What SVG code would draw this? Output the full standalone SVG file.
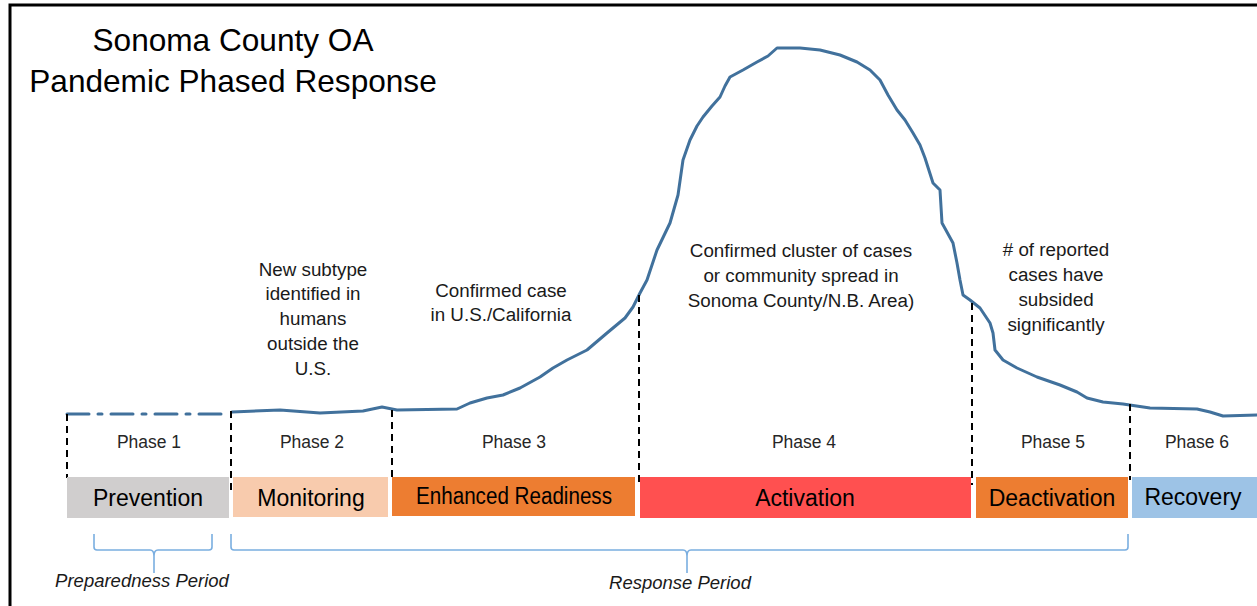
<svg xmlns="http://www.w3.org/2000/svg" width="1257" height="606" viewBox="0 0 1257 606">
  <style>
    .title { font-family: "Liberation Sans", Arial, sans-serif; font-size: 31.6px; fill: #000; text-anchor: middle; }
    .note { font-family: "Liberation Sans", Arial, sans-serif; font-size: 18.8px; fill: #1a1a1a; text-anchor: middle; }
    .phase { font-family: "Liberation Sans", Arial, sans-serif; font-size: 17.5px; fill: #262626; text-anchor: middle; }
    .bar { font-family: "Liberation Sans", Arial, sans-serif; font-size: 23px; fill: #000; text-anchor: middle; }
    .period { font-family: "Liberation Sans", Arial, sans-serif; font-size: 18.5px; font-style: italic; fill: #1a1a1a; text-anchor: middle; }
    .div { stroke: #000; stroke-width: 2; stroke-dasharray: 7 5; fill: none; }
    .brace { stroke: #7aaee0; stroke-width: 1.6; fill: none; }
    .curve { stroke: #41719c; stroke-width: 3; fill: none; stroke-linejoin: round; stroke-linecap: round; }
  </style>
  <rect x="0" y="0" width="1257" height="606" fill="#fff"/>
  <path d="M10,606 V5 H1257" stroke="#000" stroke-width="3" fill="none"/>

  <g id="title">
    <text class="title" x="233" y="51">Sonoma County OA</text>
    <text class="title" x="233" y="92">Pandemic Phased Response</text>
  </g>

  <g id="connectors">
    <path class="curve" d="M67,414 H229" stroke-dasharray="22 9 4 9" stroke-linecap="butt"/>
    <path class="curve" d="M232,412 L280,410 L320,413 L363,411 L382,407 L397,410 L457,409 L470,403 L487,398 L503,395 L520,388 L540,377 L553,368 L567,360 L587,350 L607,333 L625,318 L633,307 L640,293 L647,280 L657,250 L670,223 L678,195 L683,160 L690,140 L697,126 L703,117 L712,106 L720,97 L725,86 L730,77 L743,70 L757,62 L768,56 L777,48 L800,48 L820,50 L840,55 L857,62 L870,70 L880,80 L888,95 L897,110 L905,120 L913,133 L920,145 L925,158 L933,183 L940,190 L942,223 L953,243 L957,263 L960,280 L963,295 L970,300 L980,308 L990,323 L993,333 L995,350 L1003,360 L1017,368 L1037,377 L1060,385 L1077,392 L1087,398 L1103,402 L1123,404 L1150,408 L1197,409 L1210,412 L1223,416 L1257,415"/>
    <line class="div" x1="67" y1="414" x2="67" y2="478"/>
    <line class="div" x1="231" y1="411" x2="231" y2="490"/>
    <line class="div" x1="392" y1="410" x2="392" y2="478"/>
    <line class="div" x1="639" y1="295" x2="639" y2="483"/>
    <line class="div" x1="972" y1="303" x2="972" y2="485"/>
    <line class="div" x1="1130" y1="404" x2="1130" y2="480"/>
    <path class="brace" d="M94,534 V547 Q94,550 97,550 H150 Q154,550 154,556 V573 M154,556 Q154,550 158,550 H209 Q212,550 212,547 V534"/>
    <path class="brace" d="M231,534 V547 Q231,550 234,550 H683 Q687,550 687,556 V573 M687,556 Q687,550 691,550 H1125 Q1128,550 1128,547 V534"/>
  </g>

  <g id="notes">
    <text class="note" x="313" y="276">New subtype</text>
    <text class="note" x="313" y="300">identified in</text>
    <text class="note" x="313" y="325">humans</text>
    <text class="note" x="313" y="350">outside the</text>
    <text class="note" x="313" y="375">U.S.</text>
    <text class="note" x="501" y="297">Confirmed case</text>
    <text class="note" x="501" y="321">in U.S./California</text>
    <text class="note" x="801" y="257">Confirmed cluster of cases</text>
    <text class="note" x="801" y="282">or community spread in</text>
    <text class="note" x="801" y="307">Sonoma County/N.B. Area)</text>
    <text class="note" x="1056" y="256"># of reported</text>
    <text class="note" x="1056" y="281">cases have</text>
    <text class="note" x="1056" y="306">subsided</text>
    <text class="note" x="1056" y="331">significantly</text>
  </g>

  <g id="phase1">
    <text class="phase" x="149" y="448">Phase 1</text>
    <rect x="67" y="477" width="162" height="41" fill="#d0cece"/>
    <text class="bar" x="148" y="506">Prevention</text>
  </g>
  <g id="phase2">
    <text class="phase" x="312" y="448">Phase 2</text>
    <rect x="233" y="477" width="155" height="40" fill="#f8cbad"/>
    <text class="bar" x="311" y="506">Monitoring</text>
  </g>
  <g id="phase3">
    <text class="phase" x="514" y="448">Phase 3</text>
    <rect x="392" y="477" width="243" height="39" fill="#ed7d31"/>
    <text class="bar" x="514" y="504" textLength="196" lengthAdjust="spacingAndGlyphs">Enhanced Readiness</text>
  </g>
  <g id="phase4">
    <text class="phase" x="804" y="448">Phase 4</text>
    <rect x="640" y="477" width="331" height="41" fill="#ff5050"/>
    <text class="bar" x="805" y="506">Activation</text>
  </g>
  <g id="phase5">
    <text class="phase" x="1053" y="448">Phase 5</text>
    <rect x="976" y="477" width="152" height="41" fill="#ed7d31"/>
    <text class="bar" x="1052" y="506">Deactivation</text>
  </g>
  <g id="phase6">
    <text class="phase" x="1197" y="448">Phase 6</text>
    <rect x="1132" y="477" width="125" height="41" fill="#9dc3e6"/>
    <text class="bar" x="1193" y="505">Recovery</text>
  </g>

  <g id="periods">
    <text class="period" x="142" y="587">Preparedness Period</text>
    <text class="period" x="680" y="589">Response Period</text>
  </g>
</svg>
